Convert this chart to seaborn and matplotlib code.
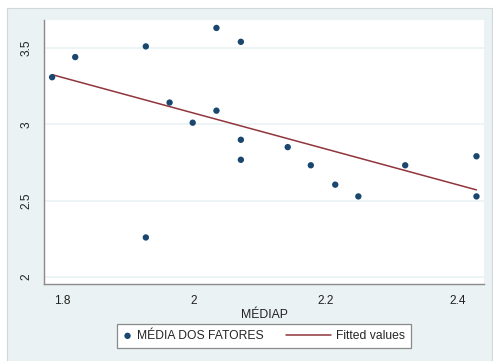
import matplotlib
matplotlib.use("Agg")
import matplotlib.pyplot as plt
import seaborn as sns
import numpy as np
import pandas as pd
from matplotlib.patches import Rectangle
from matplotlib.legend_handler import HandlerLine2D

# values
mediap = [1.785, 1.820, 1.927, 2.034, 2.071, 1.963, 2.034, 1.998, 2.071,
          2.071, 2.142, 2.177, 2.320, 2.428, 2.214, 2.249, 2.428, 1.927]
media_fatores = [3.309, 3.441, 3.511, 3.632, 3.541, 3.143, 3.090, 3.011, 2.899,
                 2.768, 2.851, 2.732, 2.732, 2.791, 2.605, 2.528, 2.528, 2.259]
x_ticks = [1.8, 2.0, 2.2, 2.4]
x_tick_labels = ["1.8", "2", "2.2", "2.4"]
y_ticks = [2.0, 2.5, 3.0, 3.5]
y_tick_labels = ["2", "2.5", "3", "3.5"]

df = pd.DataFrame({"MÉDIAP": mediap, "MÉDIA DOS FATORES": media_fatores})

sns.set_style("white")
plt.rcParams["font.family"] = ["Liberation Sans", "DejaVu Sans"]

navy = "#1a476f"
maroon = "#90353b"
panel = "#eaf2f3"
axis_gray = "#8a8a8a"


class LongLine(HandlerLine2D):
    # legend line that reaches further left than the marker slot (Stata style)
    def create_artists(self, legend, orig_handle, xdescent, ydescent, width, height, fontsize, trans):
        arts = super().create_artists(legend, orig_handle, xdescent, ydescent,
                                      width, height, fontsize, trans)
        for a in arts:
            xd = np.asarray(a.get_xdata(), dtype=float)
            a.set_xdata(np.linspace(xd[0] - 3.0 * fontsize, xd[-1], len(xd)))
        return arts


W, H = 493, 361
fig = plt.figure(figsize=(W / 100, H / 100), dpi=100, facecolor="white")
fig.patches.append(Rectangle((7 / W, 0), 485 / W, 353 / H, transform=fig.transFigure,
                             facecolor=panel, edgecolor="#d0d8dc", lw=0.8, zorder=-10))

ax = fig.add_axes([44 / W, 1 - 284 / H, 440 / W, 264 / H])
ax.set_facecolor("white")

sns.scatterplot(data=df, x="MÉDIAP", y="MÉDIA DOS FATORES", ax=ax, color=navy,
                s=21, edgecolor="none", label="MÉDIA DOS FATORES", zorder=3)
sns.regplot(data=df, x="MÉDIAP", y="MÉDIA DOS FATORES", ax=ax, scatter=False, ci=None,
            color=maroon, label="Fitted values", line_kws={"lw": 1.1, "zorder": 2})
fit_line = ax.lines[-1]

ax.set_xlim(1.7727, 2.4394)
ax.set_ylim(1.954, 3.684)
ax.set_xticks(x_ticks, x_tick_labels)
ax.set_yticks(y_ticks, y_tick_labels)
for lab in ax.get_yticklabels():
    lab.set_rotation(90)
    lab.set_va("center")
ax.yaxis.grid(True, color=panel, lw=1.2)
ax.xaxis.grid(False)
ax.set_axisbelow(True)

for s in ["top", "right"]:
    ax.spines[s].set_visible(False)
for s in ["left", "bottom"]:
    ax.spines[s].set_color(axis_gray)
    ax.spines[s].set_linewidth(1.0)
ax.tick_params(axis="both", direction="out", length=5, width=1, color=axis_gray,
               labelsize=8.6, labelcolor="#222222", pad=3)

ax.set_xlabel("MÉDIAP", fontsize=8.8, color="#222222", labelpad=1)
ax.set_ylabel("")

leg = ax.legend(loc="center", bbox_to_anchor=(0.5, -0.197), ncol=2, frameon=True,
                fancybox=False, edgecolor=axis_gray, facecolor="white", fontsize=8.7,
                handlelength=0.8, columnspacing=4.8, handletextpad=0.4,
                borderpad=0.5, framealpha=1, handler_map={fit_line: LongLine()})
leg.get_frame().set_linewidth(0.9)

fig.savefig("out.png", dpi=100, facecolor="white")
